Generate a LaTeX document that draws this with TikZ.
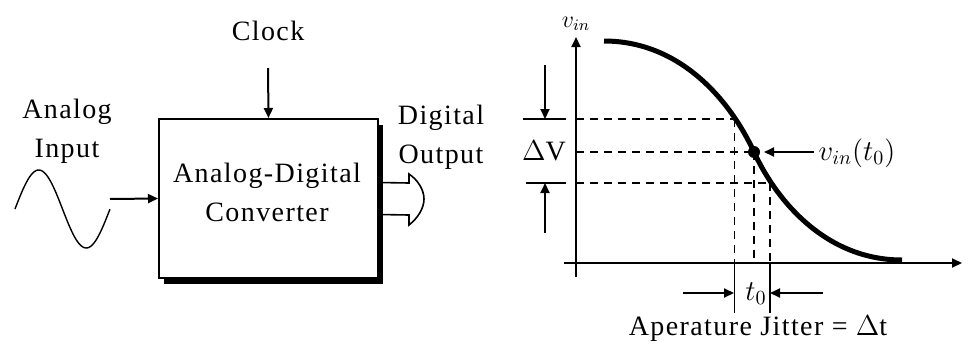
\documentclass[tikz,border=0pt]{standalone}
\usepackage{fontspec}
\setmainfont[LetterSpace=5]{Liberation Serif}
\usetikzlibrary{arrows.meta,calc,positioning,shadows}

\begin{document}
\begin{tikzpicture}[x=0.5pt, y=-0.5pt, >={Triangle[length=5pt,width=4.5pt]},
  lbl/.style={font=\fontsize{14}{19.5}\selectfont, align=center, inner sep=0pt, anchor=base},
  adc/.style={draw, line width=1pt, fill=white, minimum width=109.5pt, minimum height=79.5pt,
    drop shadow={shadow xshift=2.5pt, shadow yshift=-3.2pt, fill=black, opacity=1}},
  guide/.style={line width=1pt, dash pattern=on 4pt off 3pt},
  thinguide/.style={line width=0.5pt, dash pattern=on 4pt off 3pt}]
  \useasboundingbox (0,0) rectangle (974,343);

  % converter block
  \node[adc] (adc) at (268.5,198.5) {};
  \node[lbl] (adctxt) at (267,221) {Analog-Digital\\Converter};
  \node[lbl] (clock) at (268,40) {Clock};
  \coordinate (clk) at (268,68);
  \draw[->, line width=1pt] (clk) -- (adc.north);

  % analog input
  \node[lbl] (ain) at (67,157) {Analog\\Input};
  \draw[line width=0.7pt] plot[domain=0:1, samples=60] ({15+95*\x},{209-39*sin(360*\x)});
  \coordinate (sinend) at (110,199);
  \draw[->, line width=1pt] (sinend) -- (adc.west);

  % digital output
  \node[lbl] (dout) at (441,163) {Digital\\Output};
  \draw[line width=0.8pt] ($(adc.east)+(0,-16)$) -- (409,183) -- (409,174)
    .. controls (418,180) and (424,190) .. (424,199)
    .. controls (424,208) and (418,218) .. (409,225) -- (409,215) -- ($(adc.east)+(0,16)$);

  % axes
  \coordinate (yb) at (576,277);
  \coordinate (yt) at (576,37);
  \coordinate (xl) at (564,263);
  \coordinate (xr) at (962,263);
  \draw[->, line width=1pt] (yb) -- (yt);
  \draw[->, line width=1pt] (xl) -- (xr);
  \node[lbl, font=\fontsize{12}{14}\selectfont] (vin) at (576,27) {$v_{in}$};

  % transfer curve
  \draw[line width=2.5pt] (604,41) .. controls (680,41) and (730,100) .. (754,152)
    .. controls (778,204) and (828,260) .. (902,260);
  \coordinate (pa) at (734,119);
  \coordinate (pm) at (754,152);
  \coordinate (pb) at (770,183);

  % levels
  \draw[guide] (pa -| yt) -- (pa);
  \draw[guide] (pm -| yt) -- (pm);
  \draw[guide] (pb -| yt) -- (pb);
  \draw[thinguide] (pa) -- (pa |- xl);
  \draw[guide] (pm) -- (pm |- xl);
  \draw[guide] (pb) -- (pb |- xl);
  \fill (pm) circle[radius=3pt];

  % delta V
  \draw[line width=1pt] (523,119) -- (566,119);
  \draw[line width=1pt] (526,183) -- (566,183);
  \coordinate (dvtop) at (545,65);
  \coordinate (dvbot) at (545,233);
  \draw[->, line width=1pt] (dvtop) -- (545,119);
  \draw[->, line width=1pt] (dvbot) -- (545,183);
  \node[lbl] (dv) at (544,160) {$\Delta$V};

  % sample point
  \node[lbl] (vt0) at (857,160) {$v_{in}(t_0)$};
  \coordinate (vtail) at (814,152);
  \draw[->, line width=1pt, shorten >=5pt] (vtail) -- (pm);

  % jitter
  \coordinate (ja) at (734,313);
  \coordinate (jb) at (770,313);
  \draw[line width=0.5pt] (pa |- xl) -- (ja);
  \draw[line width=1pt] (pb |- xl) -- (jb);
  \coordinate (jl) at (683,293);
  \coordinate (jr) at (823,293);
  \draw[->, line width=1pt] (jl) -- (ja |- jl);
  \draw[->, line width=1pt] (jr) -- (jb |- jr);
  \node[lbl] (t0) at (756,300) {$t_0$};
  \node[lbl] (jit) at (758,335) {Aperature Jitter = $\Delta$t};
\end{tikzpicture}
\end{document}
